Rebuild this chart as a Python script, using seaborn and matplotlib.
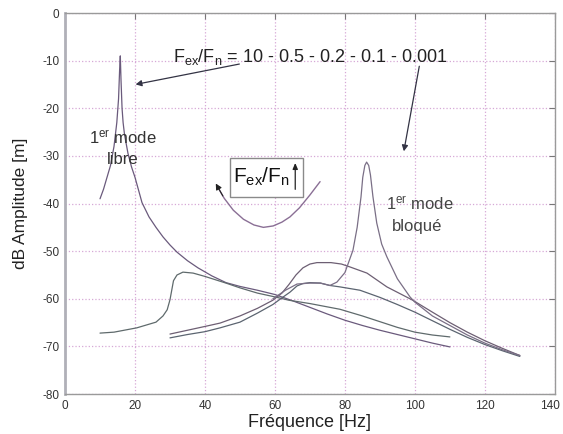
import numpy as np
import pandas as pd
import matplotlib
matplotlib.use("Agg")
import matplotlib.pyplot as plt
import matplotlib.transforms as mtransforms
from matplotlib.patches import Rectangle
import seaborn as sns

# ---- data ----
x_r10 = [10, 11, 12, 13, 14, 14.8, 15.3, 15.6, 15.8, 16.0, 16.3, 16.6, 17, 18, 19, 20, 22, 24, 26, 28,
         30, 32, 35, 38, 42, 46, 50, 55, 60, 65, 70, 75, 80, 85, 90, 95, 100, 105, 110]
y_r10 = [-39, -37, -34.5, -32, -28, -23, -18, -12, -9, -14, -20, -23, -25.5, -29.5, -32.3, -34.5, -39.8,
         -42.8, -45, -47, -48.7, -50.2, -52, -53.5, -55.2, -56.6, -57.4, -58.2, -59.1, -60.4, -61.8,
         -63.2, -64.5, -65.6, -66.6, -67.5, -68.4, -69.3, -70.1]

x_r05 = [10, 14, 20.5, 26, 28, 29.2, 30, 30.5, 31, 32, 33.7, 36.6, 40, 46, 50, 55, 60, 64, 70, 78.6,
         85, 90, 95, 100, 105, 110]
y_r05 = [-67.2, -67.0, -66.1, -64.9, -63.6, -62.3, -60.2, -58.2, -56.2, -55.0, -54.4, -54.6, -55.3,
         -56.7, -57.7, -58.8, -59.6, -60.3, -61.0, -62.2, -63.6, -64.8, -66.0, -67.0, -67.6, -68.0]

x_r02 = [30, 35, 40, 44.3, 50, 55, 59.4, 62, 64, 66, 68, 70, 72, 76, 79, 81.4, 86.3, 92, 99.4, 105,
         110, 115, 120, 125, 130]
y_r02 = [-67.4, -66.6, -65.8, -65.1, -63.6, -62.0, -60.3, -58.8, -57.0, -55.0, -53.5, -52.7, -52.4,
         -52.4, -52.7, -53.3, -54.6, -57.5, -60.3, -62.8, -65.0, -67.0, -68.8, -70.4, -71.9]

x_r01 = [30, 35, 40, 44.3, 50, 55, 59.4, 62, 64.3, 66.3, 68, 70, 73, 75.7, 78.6, 84.3, 90, 95, 100,
         105, 110, 115, 120, 125, 130]
y_r01 = [-68.2, -67.5, -66.9, -66.1, -64.9, -63.0, -61.2, -59.8, -58.6, -57.3, -56.8, -56.6, -56.7,
         -57.2, -57.5, -58.2, -59.7, -61.2, -62.8, -64.6, -66.4, -68.1, -69.6, -70.9, -72.1]

x_r0001 = [59.4, 63, 66.3, 70, 73, 75.7, 77.7, 80, 82.3, 83.5, 84.6, 85.1, 85.7, 86.2, 86.8, 87.3, 88,
           89.1, 90.5, 92, 95, 98.6, 100, 105, 110, 115, 120, 125, 130]
y_r0001 = [-60.0, -58.2, -56.9, -56.7, -56.7, -57.2, -56.5, -54.5, -49.8, -45.0, -38.6, -34.5, -32.0,
           -31.3, -32.0, -34.0, -38.5, -44.1, -48.5, -51.2, -55.8, -59.6, -60.7, -63.6, -65.6, -67.6,
           -69.3, -70.7, -71.9]

# inset U-curve (peak amplitude trend vs Fex/Fn)
x_trend = [43.3, 45.5, 48.1, 51, 54, 56.7, 59.5, 62, 64.3, 67, 70, 72.9]
y_trend = [-36.1, -38.9, -41.4, -43.3, -44.5, -45.0, -44.7, -43.9, -42.8, -40.9, -38.2, -35.4]

ratio_labels = ["10", "0.5", "0.2", "0.1", "0.001"]
x_ticks = [0, 20, 40, 60, 80, 100, 120, 140]
y_ticks = [0, -10, -20, -30, -40, -50, -60, -70, -80]

frames = []
for lab, xs, ys in zip(ratio_labels,
                       [x_r10, x_r05, x_r02, x_r01, x_r0001],
                       [y_r10, y_r05, y_r02, y_r01, y_r0001]):
    frames.append(pd.DataFrame({"f": xs, "dB": ys, "ratio": lab}))
df = pd.concat(frames, ignore_index=True)

# ---- figure ----
sns.set_style("white")
plt.rcParams["mathtext.default"] = "regular"
plt.rcParams["mathtext.fontset"] = "custom"
plt.rcParams["mathtext.rm"] = "Liberation Sans"
plt.rcParams["font.family"] = ["Liberation Sans", "DejaVu Sans"]

fig = plt.figure(figsize=(5.63, 4.34), dpi=100)
ax = fig.add_axes([0.1155, 0.092, 0.870, 0.878])

palette = {"10": "#6a5a7c", "0.5": "#5f6a6c", "0.2": "#6d5f73", "0.1": "#5b6470", "0.001": "#7a6f86"}
sns.lineplot(data=df, x="f", y="dB", hue="ratio", palette=palette, sort=False,
             estimator=None, linewidth=0.9, legend=False, ax=ax)

sns.lineplot(x=x_trend, y=y_trend, color="#8a6f95", linewidth=1.0, sort=False,
             estimator=None, ax=ax)
ax.annotate("", xy=(x_trend[0] - 0.6, y_trend[0] + 0.8), xytext=(x_trend[1], y_trend[1]),
            arrowprops=dict(arrowstyle="-|>,head_length=0.35,head_width=0.18",
                            color="#222222", lw=0.8))

ax.set_xlim(0, 140)
ax.set_ylim(-80, 0)
ax.set_xticks(x_ticks)
ax.set_yticks(y_ticks)
ax.set_xticklabels([str(v) for v in x_ticks])
ax.set_yticklabels([str(v) for v in y_ticks])
ax.tick_params(direction="in", top=True, right=True, length=4, width=0.8,
               labelsize=8.5, colors="#777777", labelcolor="#333333", pad=4)
# keep the last x tick label inside the figure
last = ax.get_xticklabels()[-1]
last.set_transform(last.get_transform() + mtransforms.ScaledTranslation(-5 / 100, 0, fig.dpi_scale_trans))

ax.grid(True, linestyle=":", color="#d6a8d6", linewidth=0.9)
for s in ax.spines.values():
    s.set_color("#9a9a9a")
    s.set_linewidth(1.0)
ax.spines["left"].set_linewidth(2.0)
ax.spines["left"].set_color("#b0b0b8")

ax.set_xlabel("Fréquence [Hz]", fontsize=13, color="#222222", labelpad=2)
ax.set_ylabel("dB Amplitude [m]", fontsize=12.5, color="#222222", labelpad=10)

# annotations
ax.text(70, -9.3, "F$_{ex}$/F$_{n}$ = 10 - 0.5 - 0.2 - 0.1 - 0.001", fontsize=13,
        ha="center", va="center", color="#222222")
ax.annotate("", xy=(19.4, -15.1), xytext=(50.6, -10.6),
            arrowprops=dict(arrowstyle="-|>,head_length=0.35,head_width=0.18",
                            color="#333344", lw=0.9))
ax.annotate("", xy=(96.7, -29.6), xytext=(101.4, -10.6),
            arrowprops=dict(arrowstyle="-|>,head_length=0.35,head_width=0.18",
                            color="#333344", lw=0.9))

ax.text(16.5, -26.2, "1$^{er}$ mode", fontsize=12, ha="center", va="center", color="#333333")
ax.text(16.5, -30.8, "libre", fontsize=12, ha="center", va="center", color="#333333")
ax.text(101.5, -40.2, "1$^{er}$ mode", fontsize=12, ha="center", va="center", color="#444444")
ax.text(100.5, -44.8, "bloqué", fontsize=12, ha="center", va="center", color="#444444")

ax.add_patch(Rectangle((47.1, -38.6), 21.0, 8.1, facecolor="white", edgecolor="#8a8a8a",
                       lw=1.0, zorder=3))
ax.text(56.0, -34.4, "F$_{ex}$/F$_{n}$", fontsize=15, ha="center", va="center", color="#111111",
        zorder=4)
ax.annotate("", xy=(65.8, -30.9), xytext=(65.8, -37.6),
            arrowprops=dict(arrowstyle="-|>,head_length=0.35,head_width=0.15",
                            color="#222222", lw=0.9), zorder=4)

fig.savefig("out.png", dpi=100)
